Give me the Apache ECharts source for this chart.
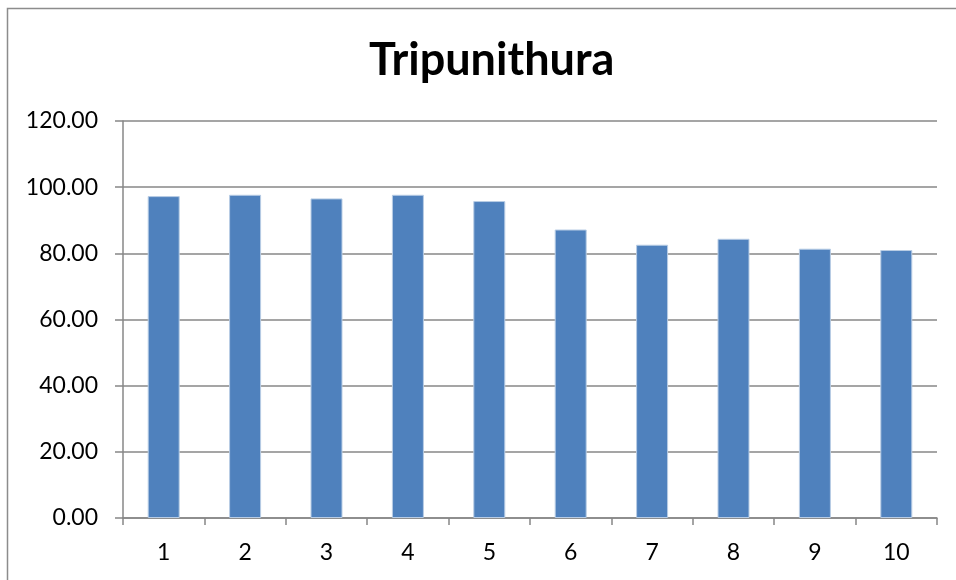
<!DOCTYPE html>
<html>
<head>
<meta charset="utf-8">
<script src="https://cdn.jsdelivr.net/npm/echarts@6/dist/echarts.min.js"></script>
<style>
  html, body { margin: 0; padding: 0; background: #fff; }
  #chart { width: 956px; height: 580px; }
</style>
</head>
<body>
<div id="chart"></div>
<script>
// categories and values
var categories = ['1', '2', '3', '4', '5', '6', '7', '8', '9', '10'];
var values = [97.3, 97.7, 96.6, 97.7, 95.8, 87.2, 82.6, 84.4, 81.4, 81.0];
var yTicks = { min: 0, max: 120, interval: 20 };

var myChart = echarts.init(document.getElementById('chart'));
var axisGray = '#878787';

myChart.setOption({
  animation: false,
  title: {
    text: 'Tripunithura',
    left: 364,
    top: 33,
    textStyle: {
      fontFamily: 'Lato',
      fontWeight: 'bold',
      fontSize: 45,
      color: '#000'
    }
  },
  graphic: [{
    type: 'rect',
    shape: { x: 7.5, y: 8.5, width: 1000, height: 1000 },
    style: { fill: 'none', stroke: '#8c8c8c', lineWidth: 1.5 }
  }],
  grid: { left: 123, right: 19, top: 121, bottom: 62 },
  xAxis: {
    type: 'category',
    data: categories,
    axisLine: { lineStyle: { color: axisGray, width: 1.5 } },
    axisTick: { show: true, length: 7, lineStyle: { color: axisGray, width: 1.5 } },
    axisLabel: { color: '#000', fontSize: 23, fontFamily: 'Lato', margin: 23 }
  },
  yAxis: {
    type: 'value',
    min: yTicks.min,
    max: yTicks.max,
    interval: yTicks.interval,
    axisLine: { show: true, lineStyle: { color: axisGray, width: 1.5 } },
    axisTick: { show: true, length: 8, lineStyle: { color: axisGray, width: 1.5 } },
    axisLabel: {
      color: '#000',
      fontSize: 23,
      fontFamily: 'Lato',
      margin: 25,
      formatter: function (v) { return v.toFixed(2); }
    },
    splitLine: { lineStyle: { color: axisGray, width: 1.5 } }
  },
  series: [{
    type: 'bar',
    data: values,
    barWidth: 32,
    itemStyle: {
      color: '#4F81BD',
      borderColor: '#B9CDE5',
      borderWidth: 1
    }
  }]
});
</script>
</body>
</html>
